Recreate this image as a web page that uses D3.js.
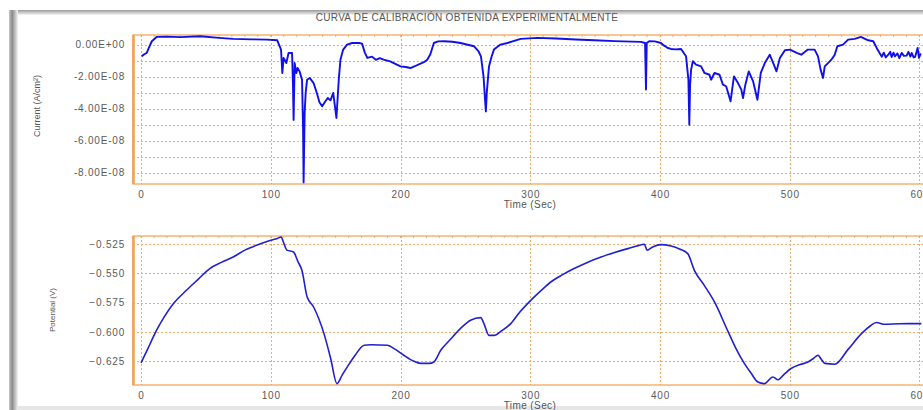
<!DOCTYPE html>
<html>
<head>
<meta charset="utf-8">
<title>Curva de calibracion</title>
<style>
    html, body { margin: 0; padding: 0; background: #fff; }
    svg { display: block; font-family: "Liberation Sans", Arial, sans-serif; }
    .tick text { fill: #5a5a5a; font-size: 10px; letter-spacing: 0.8px; }
    .grid line { stroke: #f3ab62; stroke-width: 1; stroke-dasharray: 2, 2; shape-rendering: crispEdges; }
    .frame { fill: none; stroke: #f2a14f; stroke-width: 1.2; }
</style>
<script src="https://cdn.jsdelivr.net/npm/d3@7"></script>
</head>
<body>
<div id="main"></div>
<script>
// time (s) and current (units of 1e-8 A/cm2)
var currentTime = [0.5, 2.5, 4.4, 6, 8.3, 12, 20, 30, 45.6, 60, 71, 85, 97, 105, 107.9, 108.9, 109.9, 112, 113.7, 116.4,
    117.1, 117.6, 118.4, 119.7, 120.7, 122.2, 124.1, 124.9, 125.3, 126.1, 126.9, 128, 130, 133, 135.8, 137.5, 139.6, 142.1, 143.9, 146,
    148.1, 149.8, 150.6, 152.4, 153.7, 155.8, 158.8, 162.7, 167.9, 170.4, 172.5, 174.4, 178, 181, 184, 187, 192, 196, 200, 204,
    207.7, 211, 215, 218, 220.6, 223, 225.7, 229, 233.5, 240, 246.3, 256.6, 260, 262, 264, 265.3, 265.8, 266.5, 268.2, 270,
    272, 277, 282.4, 292.7, 305.6, 320, 335, 349.3, 365, 385.3, 388.5, 389.2, 389.8, 391.7, 396, 400.8, 403, 406, 408.5, 412,
    416.2, 420.1, 421.9, 422.6, 423.2, 424, 425.3, 427.8, 431.7, 434.3, 438.1, 439.4, 442, 445.9, 448.5, 451, 454.4, 457, 460.1, 462.7,
    464, 465.8, 468.4, 471.8, 475.1, 477.7, 480.8, 484.6, 487.3, 489.8, 492.4, 496.3, 500.2, 505.4, 508.9, 514, 519.2, 521.8, 523.8, 525.7,
    527, 529.5, 532.1, 534.7, 536.7, 541.1, 545, 550.1, 554.8, 560.5, 564.4, 567.7, 569.5, 571, 572.5, 574, 576, 577.5, 578.5, 580,
    581.1, 583, 584.5, 586.3, 588, 590.1, 591.5, 593, 594, 595.5, 596.6, 598.6, 599.6, 601];
var currentValue = [-0.73, -0.6, -0.52, -0.2, 0.21, 0.48, 0.5, 0.47, 0.52, 0.42, 0.36, 0.33, 0.31, 0.27, -0.31, -1.77, -0.83, -1.15, -0.52, -0.52,
    -2.5, -4.7, -1.15, -1.77, -1.46, -1.67, -2.19, -5.3, -8.6, -4.27, -3.0, -2.19, -2.08, -2.4, -3.1, -3.6, -3.85, -3.54, -3.33, -3.48,
    -3.02, -4.06, -4.58, -2.19, -0.94, -0.31, 0, 0.1, 0.1, 0.06, -0.5, -0.83, -0.75, -0.95, -0.85, -0.94, -1.05, -1.2, -1.36, -1.4,
    -1.46, -1.35, -1.2, -1.1, -0.94, -0.6, 0.1, 0.2, 0.21, 0.18, 0.1, -0.1, -0.4, -0.73, -2.0, -3.6, -4.17, -3.0, -1.36, -0.8,
    -0.31, 0, 0.1, 0.36, 0.42, 0.38, 0.32, 0.27, 0.22, 0.17, 0.1, -2.8, 0.1, 0.21, 0.2, 0.1, -0.05, -0.21, -0.27, -0.3,
    -0.27, -0.73, -2.19, -5.0, -2.5, -1.56, -1.04, -1.25, -1.36, -1.77, -1.88, -2.19, -1.77, -1.88, -2.5, -2.6, -3.54, -1.98, -2.4, -2.81,
    -3.33, -2.5, -1.67, -2.3, -3.44, -1.77, -1.15, -0.63, -1.15, -1.67, -0.83, -0.35, -0.31, -0.52, -0.63, -0.31, -0.31, -0.73, -1.56, -2.08,
    -1.36, -1.15, -0.94, -0.63, -0.1, 0, 0.31, 0.36, 0.48, 0.27, 0.21, -0.31, -0.56, -0.75, -0.5, -0.8, -0.63, -0.45, -0.78, -0.5,
    -0.73, -0.55, -0.85, -0.52, -0.7, -0.69, -0.45, -0.75, -0.52, -0.8, -0.77, -0.21, -0.83, -0.55];

// time (s) and potential (V)
var potentialTime = [0, 5, 12, 18, 25, 35, 44, 53, 62, 71, 80, 89, 100, 105, 108, 110, 112.5, 117.5, 121, 124,
    128, 133, 141, 146, 151, 155, 159, 165, 172, 177, 190, 196, 202.5, 210, 215.5, 222, 225.7, 231, 238, 246.3,
    254, 261.8, 264.3, 268.2, 272, 278, 285, 292, 300.4, 308, 315.8, 325, 333.8, 344, 354.6, 365, 375.2, 382, 388, 390,
    394.4, 400.8, 408.5, 415, 421.4, 426.5, 434, 442, 452, 458, 465, 470, 475.4, 480.5, 487, 491, 496, 501, 508, 514,
    518, 521.8, 524, 527, 534.7, 545, 555.3, 562, 566.8, 573.2, 585, 601.5];
var potentialValue = [-0.6266, -0.615, -0.5986, -0.587, -0.5758, -0.5644, -0.555, -0.5458, -0.5405, -0.5359, -0.530, -0.5259, -0.5216, -0.5200, -0.5188, -0.524, -0.530, -0.5316, -0.540, -0.5473,
    -0.570, -0.5787, -0.6015, -0.622, -0.6443, -0.637, -0.630, -0.620, -0.6115, -0.611, -0.6115, -0.615, -0.620, -0.625, -0.627, -0.627, -0.6258, -0.6158, -0.607, -0.597,
    -0.590, -0.5878, -0.5929, -0.603, -0.603, -0.599, -0.5929, -0.583, -0.573, -0.565, -0.5573, -0.551, -0.5458, -0.5405, -0.5359, -0.532, -0.5287, -0.5265, -0.525, -0.530,
    -0.5273, -0.5253, -0.5265, -0.529, -0.533, -0.5473, -0.560, -0.5744, -0.5986, -0.613, -0.627, -0.635, -0.6429, -0.6443, -0.6386, -0.641, -0.636, -0.6314, -0.628, -0.6258,
    -0.623, -0.620, -0.623, -0.627, -0.6277, -0.615, -0.6015, -0.595, -0.592, -0.5935, -0.593, -0.5929];

var timeTicks = [0, 100, 200, 300, 400, 500, 600];
var currentTicks = [0, -2e-8, -4e-8, -6e-8, -8e-8];
var currentGrid = [0, -1e-8, -2e-8, -3e-8, -4e-8, -5e-8, -6e-8, -7e-8, -8e-8];
var potentialTicks = [-0.525, -0.55, -0.575, -0.6, -0.625];

var title = "CURVA DE CALIBRACIÓN OBTENIDA EXPERIMENTALMENTE";

var width = 923, height = 410;
var left = 133, right = 924;

function sciLabel(v) {
    if (v === 0) return "0.00E+00";
    var s = v.toExponential(2).toUpperCase();
    return s.replace(/E([+-])(\d)$/, "E$10$2");
}

function drawPanel(svg, opt) {
    var x = d3.scaleLinear().domain([-6.2, 603.5]).range([left, right]);
    var y = d3.scaleLinear().domain(opt.domain).range([opt.bottom, opt.top]);
    var g = svg.append("g");

    g.append("clipPath").attr("id", opt.id)
      .append("rect")
        .attr("x", left).attr("y", opt.top)
        .attr("width", right - left).attr("height", opt.bottom - opt.top);

    // grid
    g.append("g").attr("class", "grid")
      .selectAll("line.h").data(opt.grid).enter().append("line")
        .attr("x1", left).attr("x2", right)
        .attr("y1", function(d) { return Math.round(y(d)) + 0.5; })
        .attr("y2", function(d) { return Math.round(y(d)) + 0.5; });
    g.append("g").attr("class", "grid")
      .selectAll("line.v").data(timeTicks).enter().append("line")
        .attr("x1", function(d) { return Math.round(x(d)) + 0.5; })
        .attr("x2", function(d) { return Math.round(x(d)) + 0.5; })
        .attr("y1", opt.top).attr("y2", opt.bottom);

    // frame, with little minor ticks along top and left border
    g.append("rect").attr("class", "frame")
        .attr("x", left).attr("y", opt.top)
        .attr("width", right - left).attr("height", opt.bottom - opt.top);
    g.append("line").attr("x1", left + 0.5).attr("x2", left + 0.5)
        .attr("y1", opt.top).attr("y2", opt.bottom)
        .attr("stroke", "#f2a14f").attr("stroke-width", 2.5);
    g.append("g").selectAll("line").data(d3.range(0, 601, 10)).enter().append("line")
        .attr("x1", function(d) { return x(d); }).attr("x2", function(d) { return x(d); })
        .attr("y1", opt.top).attr("y2", opt.top + 2)
        .attr("stroke", "#f2a14f").attr("stroke-width", 0.8);

    // axes
    g.append("g")
        .attr("transform", "translate(0," + (opt.bottom + 5) + ")")
        .call(d3.axisBottom(x).tickValues(timeTicks).tickSize(0).tickPadding(2))
        .call(function(a) { a.select(".domain").remove(); });
    g.append("g")
        .attr("transform", "translate(" + (left - 8) + ",0)")
        .call(d3.axisLeft(y).tickValues(opt.ticks).tickFormat(opt.format).tickSize(0).tickPadding(0))
        .call(function(a) { a.select(".domain").remove(); });

    g.append("text")
        .attr("x", 530).attr("y", opt.bottom + 24)
        .attr("text-anchor", "middle").attr("fill", "#555").attr("font-size", 10)
        .attr("letter-spacing", "0.4px")
        .text("Time (Sec)");
    g.append("text")
        .attr("transform", "translate(" + opt.labelX + "," + opt.labelY + ") rotate(-90)")
        .attr("text-anchor", "middle").attr("fill", "#555").attr("font-size", opt.labelSize)
        .text(opt.label);

    var line = d3.line()
        .curve(opt.curve)
        .x(function(d) { return x(d[0]); })
        .y(function(d) { return y(d[1]); });
    g.append("path")
        .datum(opt.data)
        .attr("clip-path", "url(#" + opt.id + ")")
        .attr("fill", "none")
        .attr("stroke", opt.color)
        .attr("stroke-width", opt.lineWidth)
        .attr("stroke-linejoin", "round")
        .attr("d", line);
}

function main() {
    var svg = d3.select("#main").append("svg")
        .attr("width", width).attr("height", height);

    var defs = svg.append("defs");
    var gl = defs.append("linearGradient").attr("id", "shadeLeft")
        .attr("x1", 0).attr("x2", 1).attr("y1", 0).attr("y2", 0);
    gl.append("stop").attr("offset", 0).attr("stop-color", "#c8c8c8");
    gl.append("stop").attr("offset", 0.35).attr("stop-color", "#8a8a8a");
    gl.append("stop").attr("offset", 1).attr("stop-color", "#f4f4f4");
    var gt = defs.append("linearGradient").attr("id", "shadeTop")
        .attr("x1", 0).attr("x2", 0).attr("y1", 0).attr("y2", 1);
    gt.append("stop").attr("offset", 0).attr("stop-color", "#9a9a9a");
    gt.append("stop").attr("offset", 1).attr("stop-color", "#f6f6f6");

    svg.append("rect").attr("width", width).attr("height", height).attr("fill", "#fff");
    svg.append("rect").attr("x", 10).attr("y", 10).attr("width", width).attr("height", 5)
        .attr("fill", "url(#shadeTop)");
    svg.append("rect").attr("x", 9).attr("y", 10).attr("width", 9).attr("height", 400)
        .attr("fill", "url(#shadeLeft)");
    svg.append("rect").attr("x", 18).attr("y", 406).attr("width", width).attr("height", 4)
        .attr("fill", "#e6e6e6");

    svg.append("text")
        .attr("x", 467).attr("y", 21)
        .attr("text-anchor", "middle").attr("fill", "#555").attr("font-size", 10)
        .attr("letter-spacing", "0.3px")
        .text(title);

    var currentData = currentTime.map(function(t, i) { return [t, currentValue[i] * 1e-8]; });
    var potentialData = potentialTime.map(function(t, i) { return [t, potentialValue[i]]; });

    drawPanel(svg, {
        id: "clipTop", top: 35, bottom: 184,
        domain: [-8.7e-8, 0.6e-8],
        ticks: currentTicks, grid: currentGrid, format: sciLabel,
        label: "Current (A/cm\u00b2)", labelX: 40, labelY: 106, labelSize: 9,
        data: currentData, color: "#1010e8", lineWidth: 1.9, curve: d3.curveLinear
    });

    drawPanel(svg, {
        id: "clipBottom", top: 236, bottom: 385,
        domain: [-0.6455, -0.5179],
        ticks: potentialTicks, grid: potentialTicks, format: d3.format(".3f"),
        label: "Potential (V)", labelX: 55, labelY: 310, labelSize: 8,
        data: potentialData, color: "#2020d0", lineWidth: 1.6, curve: d3.curveMonotoneX
    });
}

main();
</script>
</body>
</html>
